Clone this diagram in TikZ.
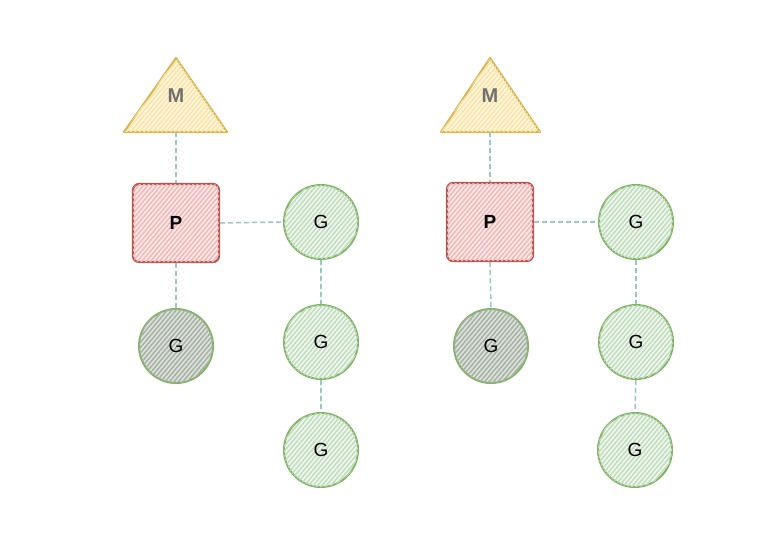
\documentclass[tikz,border=0pt]{standalone}
\usepackage{fontspec}
\setmainfont{Liberation Sans}
\usetikzlibrary{patterns.meta}
\definecolor{mstroke}{HTML}{D6B656}
\definecolor{mfill}{HTML}{FFE3A0}
\definecolor{mbase}{HTML}{FFF8E6}
\definecolor{pstroke}{HTML}{B85450}
\definecolor{pfill}{HTML}{F5B5B2}
\definecolor{pbase}{HTML}{FDEDEC}
\definecolor{gstroke}{HTML}{82B366}
\definecolor{gfill}{HTML}{BFDDBB}
\definecolor{gbase}{HTML}{F2F8F1}
\definecolor{grayhatch}{HTML}{A6B0A4}
\definecolor{graybase}{HTML}{DDE3DC}
\definecolor{edge}{HTML}{9AC7BF}
\definecolor{mtext}{HTML}{707070}
\tikzset{
  hatch/.style 2 args={fill=#2,postaction={pattern={Lines[angle=50,distance=3.4pt,line width=1.5pt]},pattern color=#1}},
  pbox/.style={draw=pstroke,line width=2.1pt,rounded corners=6pt,minimum width=86pt,minimum height=78pt,
    hatch={pfill}{pbase},font=\fontsize{19}{19}\selectfont\bfseries,inner sep=0pt},
  gcirc/.style={circle,draw=gstroke,line width=2pt,minimum size=74pt,hatch={gfill}{gbase},
    font=\fontsize{19}{19}\selectfont,inner sep=0pt},
  grayg/.style={circle,draw=gstroke,line width=2pt,minimum size=74pt,hatch={grayhatch}{graybase},
    font=\fontsize{19}{19}\selectfont,inner sep=0pt},
  tri/.style={draw=mstroke,line width=2.1pt,hatch={mfill}{mbase},line join=round},
  mlabel/.style={font=\fontsize{20}{20}\selectfont\bfseries,text=mtext,inner sep=0pt},
  link/.style={draw=edge,line width=1.5pt,dash pattern=on 5pt off 3pt},
}
\begin{document}
\begin{tikzpicture}[x=1pt,y=-1pt]
\useasboundingbox (0,0) rectangle (766,552);
% ---- left group
\path[tri] (176,58) -- (227,132) -- (124,132) -- cycle;
\coordinate (mb1) at (176,132);
\node[mlabel] (m1) at (176,96) {M};
\node[pbox] (p1) at (176,223) {P};
\node[gcirc] (ga1) at (321,222) {G};
\node[grayg] (gb1) at (176,346) {G};
\node[gcirc] (gc1) at (321,342) {G};
\node[gcirc] (gd1) at (321,450) {G};
\draw[link] (mb1) -- (p1.north);
\draw[link] (p1.east) -- (ga1.west);
\draw[link] (p1.south) -- (gb1.north);
\draw[link] (ga1.south) -- (gc1.north);
\draw[link] (gc1.south) -- (gd1.north);
% ---- right group
\path[tri] (490,58) -- (540,132) -- (441,132) -- cycle;
\coordinate (mb2) at (490,132);
\node[mlabel] (m2) at (490,96) {M};
\node[pbox] (p2) at (490,222) {P};
\node[gcirc] (ga2) at (636,222) {G};
\node[grayg] (gb2) at (491,346) {G};
\node[gcirc] (gc2) at (636,342) {G};
\node[gcirc] (gd2) at (635,450) {G};
\draw[link] (mb2) -- (p2.north);
\draw[link] (p2.east) -- (ga2.west);
\draw[link] (p2.south) -- (gb2.north);
\draw[link] (ga2.south) -- (gc2.north);
\draw[link] (gc2.south) -- (gd2.north);
\end{tikzpicture}
\end{document}
